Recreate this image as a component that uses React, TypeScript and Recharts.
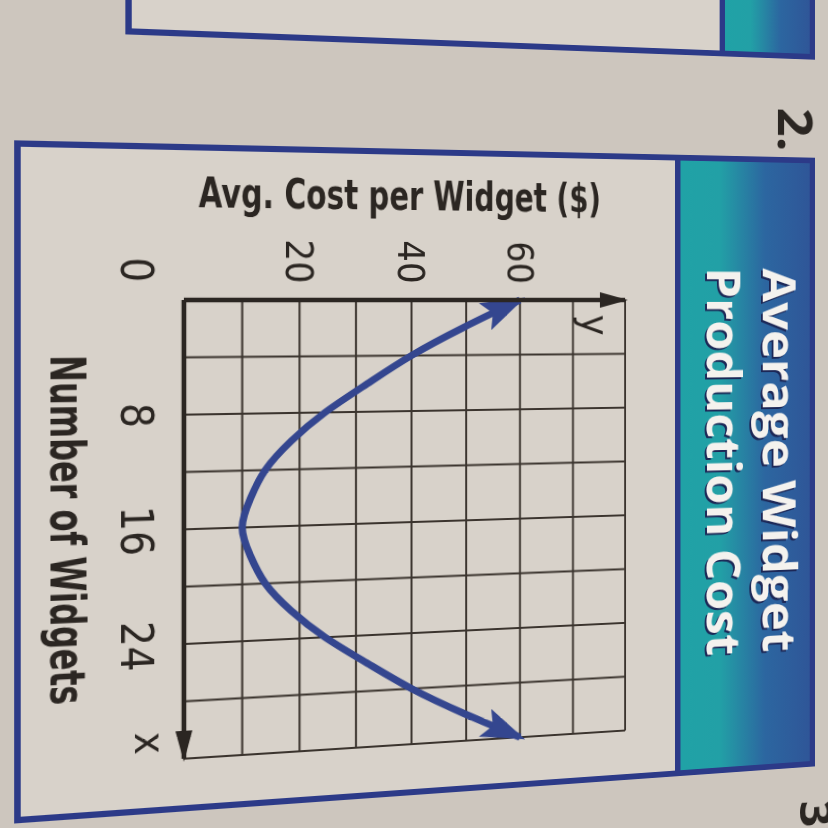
import { LineChart, Line, XAxis, YAxis, CartesianGrid } from "recharts";

// number of widgets (x) and average cost per widget (y)
const widgetCounts = [0, 2, 4, 6, 8, 10, 12, 14, 16, 18, 20, 22, 24, 26, 28, 30, 32];
const avgCosts = [60, 49.5, 40, 32, 24.5, 18.5, 14, 11.4, 10, 11.4, 14, 18.5, 24.5, 32, 40, 49.5, 60];

// grid lines and the tick labels that are printed
const xGridTicks = [0, 4, 8, 12, 16, 20, 24, 28, 32];
const xTickLabels = [0, 8, 16, 24];
const yGridTicks = [0, 10, 20, 30, 40, 50, 60, 70, 80];
const yTickLabels = [20, 40, 60];

const data = widgetCounts.map((x, i) => ({ x, cost: avgCosts[i] }));

const NARROW = "'Liberation Sans Narrow', 'DejaVu Sans Condensed', 'Roboto', sans-serif";
const HEAD = "'Open Sans', 'DejaVu Sans', sans-serif";
const INK = "#2b2622";
const CURVE = "#34468f";
const FRAME = "#2c3a88";
const PAPER = "#cdc6be";
const INSIDE = "#d8d2ca";
const BAND = "linear-gradient(to bottom, #2f5698 0%, #2c66a0 35%, #22a0a6 70%, #20a2a6 100%)";

function XTick(props: any) {
  const { x, y, payload } = props;
  if (!xTickLabels.includes(payload.value)) return <g />;
  const shift = payload.value === 0 ? -29 : 0;
  return (
    <text x={x + shift} y={y + 44} textAnchor="middle" dominantBaseline="central"
      fontFamily={NARROW} fontSize={42} fill={INK}>
      {payload.value}
    </text>
  );
}

function YTick(props: any) {
  const { x, y, payload } = props;
  if (!yTickLabels.includes(payload.value)) return <g />;
  return (
    <text x={x - 38} y={y} textAnchor="middle" dominantBaseline="central"
      fontFamily={NARROW} fontSize={38} fill={INK}>
      {payload.value}
    </text>
  );
}

function xTitle(props: any) {
  const { x, y, width } = props.viewBox;
  return (
    <g>
      <text x={x + width / 2 - 3} y={y + 124} textAnchor="middle" fontFamily={NARROW}
        fontWeight={700} fontSize={45} fill={INK} textLength={333} lengthAdjust="spacingAndGlyphs">
        Number of Widgets
      </text>
      <text x={x + width - 17} y={y + 32} textAnchor="middle" dominantBaseline="central"
        fontFamily={NARROW} fontSize={40} fill={INK}>
        x
      </text>
    </g>
  );
}

function yTitle(props: any) {
  const { x, y, width, height } = props.viewBox;
  const bx = x + width - 90;
  const cy = y + height / 2 + 6;
  return (
    <g>
      <text transform={`translate(${bx},${cy}) rotate(-90)`} textAnchor="middle" fontFamily={NARROW}
        fontWeight={700} fontSize={40} fill={INK} textLength={405} lengthAdjust="spacingAndGlyphs">
        Avg. Cost per Widget ($)
      </text>
      <text x={x + width + 26} y={y + 32} textAnchor="middle" dominantBaseline="central"
        fontFamily={NARROW} fontSize={40} fill={INK}>
        y
      </text>
    </g>
  );
}

export default function App() {
  return (
    <div style={{ position: "absolute", left: 0, top: 0, width: 828, height: 828,
      overflow: "hidden", background: PAPER }}>
      {/* the photo is taken at a slant: right side further away */}
      <div style={{ position: "absolute", left: 0, top: 0, width: 828, height: 828,
        transform: "perspective(1000px) rotateY(8.2deg)", transformOrigin: "414px 300px" }}>
        {/* the page itself lies turned a quarter turn */}
        <div style={{ position: "absolute", left: 0, top: 0, width: 828, height: 828,
          transform: "rotate(90deg)", transformOrigin: "414px 414px" }}>
          <svg width={0} height={0} style={{ position: "absolute" }}>
            <defs>
              <marker id="curveArrow" viewBox="0 0 46 30" refX={40} refY={15} markerWidth={46}
                markerHeight={30} markerUnits="userSpaceOnUse" orient="auto-start-reverse">
                <path d="M0,0 L46,15 L0,30 L9,15 Z" fill={CURVE} />
              </marker>
              <marker id="axisArrow" viewBox="0 0 30 16" refX={27} refY={8} markerWidth={30}
                markerHeight={16} markerUnits="userSpaceOnUse" orient="auto-start-reverse">
                <path d="M0,0 L30,8 L0,16 Z" fill={INK} />
              </marker>
            </defs>
          </svg>

          {/* previous exercise box, cut off at the page edge */}
          <div style={{ position: "absolute", left: -40, top: -16, width: 85, height: 710,
            boxSizing: "border-box", border: `6px solid ${FRAME}`, background: INSIDE }}>
            <div style={{ position: "absolute", left: 0, right: 0, top: 0, height: 101,
              boxSizing: "border-box", borderBottom: `6px solid ${FRAME}`, background: BAND }} />
          </div>

          {/* exercise 2 box */}
          <div style={{ position: "absolute", left: 149, top: -16, width: 646, height: 812,
            boxSizing: "border-box", border: `6px solid ${FRAME}`, background: INSIDE }}>
            <div style={{ position: "absolute", left: 0, right: 0, top: 0, height: 150,
              boxSizing: "border-box", borderBottom: `6px solid ${FRAME}`, background: BAND }} />
          </div>

          <div style={{ position: "absolute", left: 0, top: 0 }}>
            <LineChart width={828} height={828} data={data}
              margin={{ top: 194, right: 84, bottom: 149, left: 240 }}>
              <CartesianGrid stroke="#3b342e" strokeWidth={2} />
              <XAxis dataKey="x" type="number" domain={[0, 32]} ticks={xGridTicks} interval={0}
                height={40} tickLine={false} tickSize={0} tickMargin={0} tick={XTick}
                axisLine={{ stroke: INK, strokeWidth: 4.5, markerEnd: "url(#axisArrow)" }}
                label={xTitle} />
              <YAxis type="number" domain={[0, 80]} ticks={yGridTicks} interval={0}
                width={60} tickLine={false} tickSize={0} tickMargin={0} tick={YTick}
                axisLine={{ stroke: INK, strokeWidth: 4.5, markerStart: "url(#axisArrow)" }}
                label={yTitle} />
              <Line dataKey="cost" type="natural" stroke={CURVE} strokeWidth={7} dot={false}
                isAnimationActive={false} markerStart="url(#curveArrow)" markerEnd="url(#curveArrow)" />
            </LineChart>
          </div>

          <svg width={828} height={828}
            style={{ position: "absolute", left: 0, top: 0, overflow: "visible", pointerEvents: "none" }}>
            <g fontFamily={HEAD} fontWeight={700} fontSize={52}>
              <text x={471} y={45} textAnchor="middle" fill="#1c2756" textLength={405} lengthAdjust="spacingAndGlyphs">Average Widget</text>
              <text x={469} y={43} textAnchor="middle" fill="#f4f2ee" textLength={405} lengthAdjust="spacingAndGlyphs">Average Widget</text>
              <text x={471} y={107} textAnchor="middle" fill="#1c2756" textLength={406} lengthAdjust="spacingAndGlyphs">Production Cost</text>
              <text x={469} y={105} textAnchor="middle" fill="#f4f2ee" textLength={406} lengthAdjust="spacingAndGlyphs">Production Cost</text>
            </g>
            <text x={120} y={26} textAnchor="middle" fontFamily={HEAD} fontWeight={700} fontSize={54} fill={INK}>2.</text>
            <text x={845} y={1} textAnchor="middle" fontFamily={HEAD} fontWeight={700} fontSize={50} fill={INK}>3</text>
          </svg>
        </div>
      </div>
    </div>
  );
}
